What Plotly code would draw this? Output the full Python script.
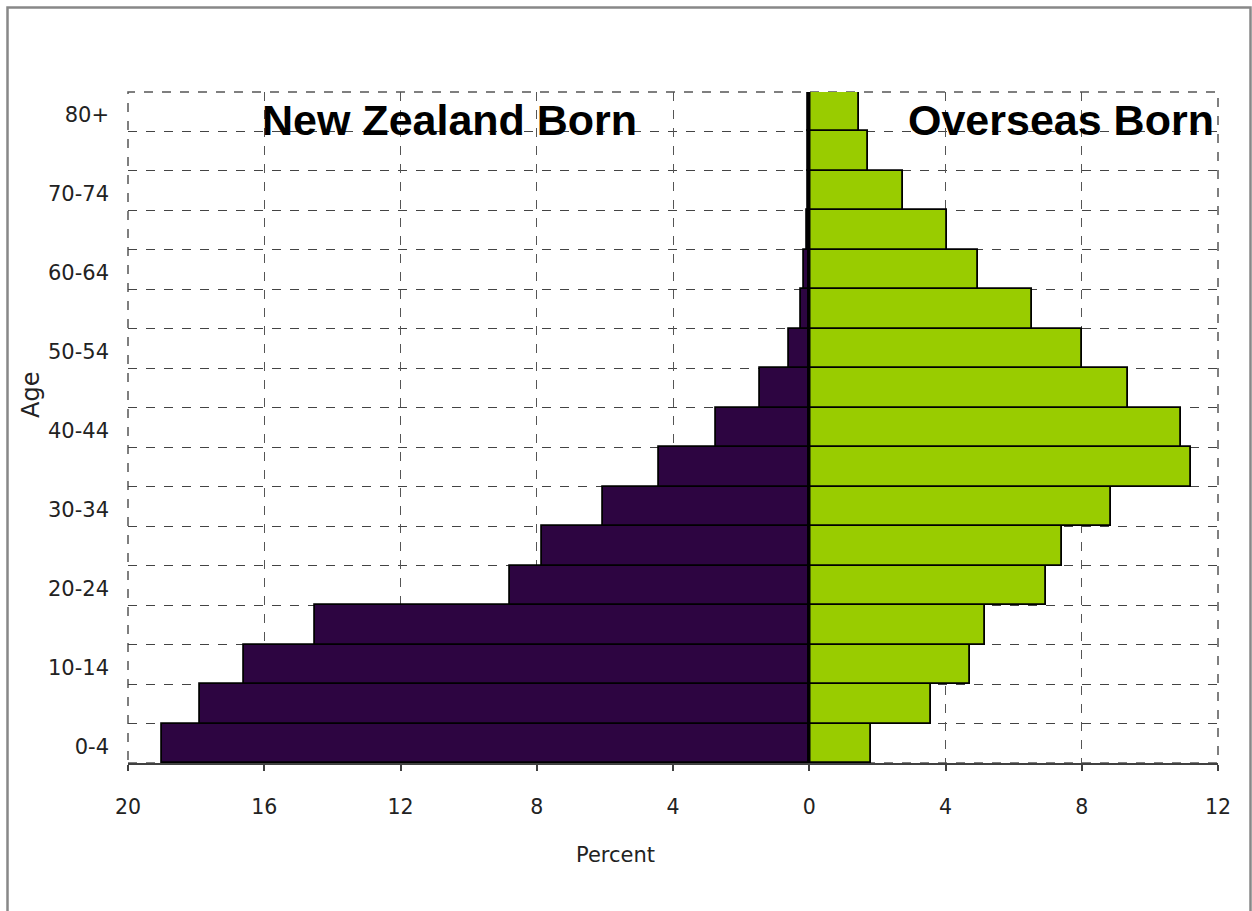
import plotly.graph_objects as go

ages = ['0-4', '5-9', '10-14', '15-19', '20-24', '25-29', '30-34', '35-39', '40-44',
        '45-49', '50-54', '55-59', '60-64', '65-69', '70-74', '75-79', '80+']
nz_born = [19.0, 17.9, 16.6, 14.5, 8.8, 7.85, 6.05, 4.4, 2.75, 1.45, 0.6, 0.25, 0.15,
           0.08, 0.05, 0.05, 0.05]
overseas_born = [1.82, 3.56, 4.73, 5.17, 6.94, 7.41, 8.85, 11.2, 10.9, 9.35, 8.02, 6.54,
                 4.95, 4.04, 2.74, 1.71, 1.45]
x_ticks = [-20, -16, -12, -8, -4, 0, 4, 8, 12]
x_tick_text = ['20', '16', '12', '8', '4', '0', '4', '8', '12']

ypos = list(range(len(ages)))
FONT = 'DejaVu Sans'

fig = go.Figure()
fig.add_trace(go.Bar(
    y=ypos, x=[-v for v in nz_born], orientation='h', width=1,
    marker=dict(color='#2d0541', line=dict(color='#000000', width=1.8)),
    name='New Zealand Born', showlegend=False))
fig.add_trace(go.Bar(
    y=ypos, x=overseas_born, orientation='h', width=1,
    marker=dict(color='#99cc00', line=dict(color='#000000', width=1.8)),
    name='Overseas Born', showlegend=False))

fig.update_layout(
    width=1252, height=911,
    margin=dict(l=128, r=34, t=92, b=148),
    paper_bgcolor='white', plot_bgcolor='white',
    barmode='overlay', bargap=0,
    font=dict(family=FONT, color='#222222'),
    xaxis=dict(
        range=[-20, 12], tickmode='array', tickvals=x_ticks, ticktext=x_tick_text,
        showgrid=True, gridcolor='#555555', griddash='dash', gridwidth=1,
        zeroline=False, showline=True, linecolor='#404040', linewidth=2,
        ticks='outside', ticklen=6, tickcolor='#404040', tickwidth=2,
        tickfont=dict(family=FONT, size=20.5, color='#222222'),
        ticklabelstandoff=18,
    ),
    yaxis=dict(
        range=[-0.5, len(ages) - 0.5], tickmode='array',
        tickvals=[p - 0.08 for p in ypos[::2]], ticktext=ages[::2],
        showgrid=False, zeroline=False, showline=False, ticks='',
        tickfont=dict(family=FONT, size=21, color='#222222'),
        ticklabelstandoff=18,
        minor=dict(tickvals=[i - 0.5 for i in range(len(ages) + 1)], showgrid=True,
                   gridcolor='#444444', griddash='dash', gridwidth=1, ticks=''),
    ),
    shapes=[
        dict(type='rect', xref='paper', yref='paper', x0=0, x1=1, y0=0, y1=1,
             line=dict(color='#555555', width=1.5, dash='dash'), layer='below'),
        dict(type='line', xref='x', yref='paper', x0=0, x1=0, y0=0, y1=1,
             line=dict(color='#000000', width=2.5), layer='above'),
        dict(type='rect', xref='paper', yref='paper',
             x0=(7.5 - 128) / 1090, x1=(1250.5 - 128) / 1090,
             y0=(763 - 930) / 671, y1=(763 - 7.5) / 671,
             line=dict(color='#888888', width=2.5), fillcolor='rgba(0,0,0,0)', layer='below'),
    ],
    annotations=[
        dict(text='New Zealand Born', xref='paper', yref='paper',
             x=(260 - 128) / 1090, y=(763 - 120) / 671, xanchor='left', yanchor='middle',
             showarrow=False, font=dict(family='Liberation Sans', size=43, color='#000000'),
             ),
        dict(text='Overseas Born', xref='paper', yref='paper',
             x=(1216 - 128) / 1090, y=(763 - 120) / 671, xanchor='right', yanchor='middle',
             showarrow=False, font=dict(family='Liberation Sans', size=43, color='#000000'),
             ),
        dict(text='Age', xref='paper', yref='paper',
             x=(31 - 128) / 1090, y=(763 - 395) / 671, xanchor='center', yanchor='middle',
             textangle=-90, showarrow=False, font=dict(family=FONT, size=24, color='#222222')),
        dict(text='Percent', xref='paper', yref='paper',
             x=(615 - 128) / 1090, y=(763 - 855) / 671, xanchor='center', yanchor='middle',
             showarrow=False, font=dict(family=FONT, size=21, color='#222222')),
    ],
)
fig.layout.annotations[0].font.weight = 'bold'
fig.layout.annotations[1].font.weight = 'bold'

fig.write_html('out.html')
